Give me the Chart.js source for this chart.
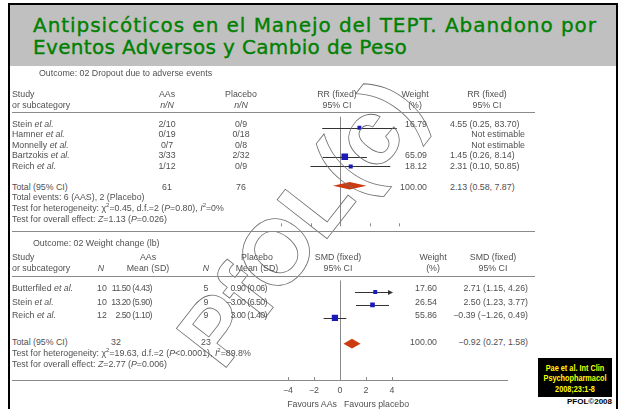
<!DOCTYPE html>
<html>
<head>
<meta charset="utf-8">
<script src="https://cdn.jsdelivr.net/npm/chart.js@4.4.0/dist/chart.umd.min.js"></script>
<style>
  body { margin: 0; width: 621px; height: 409px; overflow: hidden; background: #fff; position: relative; font-family: "Liberation Sans", Arial, sans-serif; }
  #frame { position: absolute; left: 8px; top: 3px; width: 610px; height: 430px; border: 2px solid #000; box-sizing: border-box; }
  #band { position: absolute; left: 10px; top: 5px; width: 606px; height: 61px; background: #c0c0c0; }
  .title { position: absolute; left: 33px; color: #008000; font: 20px "DejaVu Sans", sans-serif; line-height: 22px; height: 22px; white-space: nowrap; -webkit-text-stroke: 0.35px #008000; }
  .t { position: absolute; font-size: 8.8px; color: #505050; white-space: nowrap; line-height: 10px; height: 10px; }
  .tight { letter-spacing: -0.55px; }
  .hr { position: absolute; height: 1px; background: #8a8a8a; }
  .box { position: absolute; }
  #wm { position: absolute; left: 300px; top: 222px; transform: translate(-50%, -50%) rotate(-52deg); font: bold 92px "Liberation Sans", sans-serif; color: transparent; -webkit-text-stroke: 0.8px #707070; white-space: nowrap; }
  #cite { position: absolute; left: 538px; top: 358px; width: 74px; height: 39px; background: #000; }
  #cite div { position: absolute; left: 0; width: 74px; color: #ffff00; font: bold 8.5px "Liberation Sans", sans-serif; text-align: center; line-height: 10px; height: 10px; transform: scaleX(0.86); }
  #pfol { position: absolute; right: 9px; top: 397px; font: bold 8px "Liberation Sans", sans-serif; color: #000; }
</style>
</head>
<body>
<div id="frame"></div>
<div id="band"></div>
<div class="title" id="t1" style="top:13.5px;">Antipsicóticos en el Manejo del TEPT. Abandono por</div>
<div class="title" id="t2" style="top:35.5px;">Eventos Adversos y Cambio de Peso</div>

<div class="box" style="left:261px;top:112px;width:158px;height:119px;"><canvas id="rrChart" width="158" height="119"></canvas></div>
<div class="box" style="left:268px;top:276px;width:144px;height:133px;"><canvas id="smdChart" width="144" height="133"></canvas></div>

<div id="wm">PfOL(c)</div>
<div id="cite">
  <div style="top:5px;">Pae et al. Int Clin</div>
  <div style="top:15px;">Psychopharmacol</div>
  <div style="top:26px;">2008;23:1-8</div>
</div>
<div id="pfol">PFOL©2008</div>

<script>
// Outcome 02: dropout due to adverse events (RR, fixed)
const dropStudies = ['Stein', 'Hamner', 'Monnelly', 'Bartzokis', 'Reich'];
const dropAAs = ['2/10', '0/19', '0/7', '3/33', '1/12'];
const dropPlacebo = ['0/9', '0/18', '0/8', '2/32', '0/9'];
const dropWeight = [16.79, null, null, 65.09, 18.12];
const dropRR = [4.55, null, null, 1.45, 2.31];
const dropLo = [0.25, null, null, 0.26, 0.10];
const dropHi = [83.70, null, null, 8.14, 50.85];
const dropTotalN = [61, 76];
const dropTotalRR = [2.13, 0.58, 7.87];   // estimate, low, high
const rrTicks = [0.01, 0.1, 1, 10, 100];

// Outcome 02: weight change (lb) (SMD, fixed)
const wcStudies = ['Butterfiled', 'Stein', 'Reich'];
const wcN1 = [10, 10, 12];
const wcMean1 = [11.50, 13.20, 2.50];
const wcSD1 = [4.43, 5.90, 1.10];
const wcN2 = [5, 9, 9];
const wcMean2 = [0.90, -3.00, 3.00];
const wcSD2 = [0.06, 6.50, 1.40];
const wcWeight = [17.60, 26.54, 55.86];
const wcSMD = [2.71, 2.50, -0.39];
const wcLo = [1.15, 1.23, -1.26];
const wcHi = [4.26, 3.77, 0.49];
const wcTotalN = [32, 23];
const wcTotalSMD = [0.92, 0.27, 1.58];
const wcTotalLabel = '−0.92 (0.27, 1.58)'; // as printed on the slide
const smdTicks = [-4, -2, 0, 2, 4];

const BLUE = '#1a1ab8';
const DIAMOND = '#cc3a10';

// stretch the title lines to the width they have on the slide
function fitWidth(id, target) {
    const el = document.getElementById(id);
    const n = el.textContent.length;
    const w = el.getBoundingClientRect().width;
    el.style.letterSpacing = ((target - w) / n) + 'px';
}
fitWidth('t1', 564);
fitWidth('t2', 374);

function fmt(v) {
    return v.toFixed(2).replace('-', '−');
}

// absolutely placed text, y is the vertical centre
function put(x, y, html, align, cls) {
    const el = document.createElement('div');
    el.className = 't' + (cls ? ' ' + cls : '');
    el.innerHTML = html;
    el.style.left = x + 'px';
    el.style.top = (y - 5) + 'px';
    if (align === 'c') el.style.transform = 'translateX(-50%)';
    if (align === 'r') el.style.transform = 'translateX(-100%)';
    document.body.appendChild(el);
}

function rule(x1, x2, y) {
    const el = document.createElement('div');
    el.className = 'hr';
    el.style.left = x1 + 'px';
    el.style.width = (x2 - x1) + 'px';
    el.style.top = y + 'px';
    document.body.appendChild(el);
}

const SUP2 = '<sup style="font-size:6px;line-height:0">2</sup>';

// ---- top table ----
put(39, 73, 'Outcome: 02 Dropout due to adverse events');
put(12, 94, 'Study');
put(12, 105, 'or subcategory');
put(167, 94, 'AAs', 'c');
put(167, 105, '<i>n/N</i>', 'c');
put(241, 94, 'Placebo', 'c');
put(241, 105, '<i>n/N</i>', 'c');
put(337, 94, 'RR (fixed)', 'c');
put(337, 105, '95% CI', 'c');
put(415, 94, 'Weight', 'c');
put(415, 105, '(%)', 'c');
put(487, 94, 'RR (fixed)', 'c');
put(487, 105, '95% CI', 'c');
rule(12, 535, 112);

dropStudies.forEach((s, i) => {
    const y = 123.5 + 10.5 * i;
    put(12, y, s + ' <i>et al.</i>');
    put(167, y, dropAAs[i], 'c');
    put(241, y, dropPlacebo[i], 'c');
    if (dropRR[i] == null) {
        put(525, y, 'Not estimable', 'r');
    } else {
        put(427, y, fmt(dropWeight[i]), 'r');
        put(450, y, fmt(dropRR[i]) + ' (' + fmt(dropLo[i]) + ', ' + fmt(dropHi[i]) + ')');
    }
});
put(12, 186.5, 'Total (95% CI)');
put(167, 186.5, dropTotalN[0], 'c');
put(241, 186.5, dropTotalN[1], 'c');
put(427, 186.5, '100.00', 'r');
put(450, 186.5, fmt(dropTotalRR[0]) + ' (' + fmt(dropTotalRR[1]) + ', ' + fmt(dropTotalRR[2]) + ')');
put(12, 197, 'Total events: 6 (AAS), 2 (Placebo)');
put(12, 208, 'Test for heterogeneity: χ' + SUP2 + '=0.45, d.f.=2 (<i>P</i>=0.80), <i>I</i>' + SUP2 + '=0%');
put(12, 219, 'Test for overall effect: <i>Z</i>=1.13 (<i>P</i>=0.026)');
rule(12, 535, 231);

// ---- bottom table ----
put(33, 243, 'Outcome: 02 Weight change (lb)');
put(12, 257, 'Study');
put(12, 268, 'or subcategory');
put(101, 268, '<i>N</i>', 'c');
put(148, 257, 'AAs', 'c');
put(148, 268, 'Mean (SD)', 'c');
put(206, 268, '<i>N</i>', 'c');
put(257, 257, 'Placebo', 'c');
put(257, 268, 'Mean (SD)', 'c');
put(338, 257, 'SMD (fixed)', 'c');
put(338, 268, '95% CI', 'c');
put(433, 257, 'Weight', 'c');
put(433, 268, '(%)', 'c');
put(493, 257, 'SMD (fixed)', 'c');
put(493, 268, '95% CI', 'c');
rule(12, 535, 276);

wcStudies.forEach((s, i) => {
    const y = 288 + 13.5 * i;
    put(12, y, s + ' <i>et al.</i>');
    put(102, y, wcN1[i], 'c');
    put(152, y, fmt(wcMean1[i]) + ' (' + fmt(wcSD1[i]) + ')', 'r', 'tight');
    put(206, y, wcN2[i], 'c');
    put(267, y, fmt(wcMean2[i]) + ' (' + fmt(wcSD2[i]) + ')', 'r', 'tight');
    put(437, y, fmt(wcWeight[i]), 'r');
    put(528, y, fmt(wcSMD[i]) + ' (' + fmt(wcLo[i]) + ', ' + fmt(wcHi[i]) + ')', 'r');
});
put(12, 342, 'Total (95% CI)');
put(116, 342, wcTotalN[0], 'c');
put(206, 342, wcTotalN[1], 'c');
put(437, 342, '100.00', 'r');
put(528, 342, wcTotalLabel, 'r');
put(12, 353, 'Test for heterogeneity: χ' + SUP2 + '=19.63, d.f.=2 (<i>P</i>&lt;0.0001), <i>I</i>' + SUP2 + '=89.8%');
put(12, 364, 'Test for overall effect: <i>Z</i>=2.77 (<i>P</i>=0.006)');
rule(12, 508, 380);
put(337, 404, 'Favours AAs', 'r');
put(344, 404, 'Favours placebo');

// ---- forest plots ----
function side(w) {
    return 1.0 + 0.7 * Math.sqrt(w);
}

function forestPlugin(lo, hi, est, totalRow, total, refValue, tickValues) {
    return {
        id: 'forest',
        beforeDatasetsDraw(chart) {
            const ctx = chart.ctx;
            const xs = chart.scales.x, ys = chart.scales.y;
            const area = chart.chartArea;
            ctx.save();
            // line of no effect
            const x0 = Math.round(xs.getPixelForValue(refValue)) + 0.5;
            ctx.strokeStyle = '#8a8a8a';
            ctx.lineWidth = 1;
            ctx.beginPath();
            ctx.moveTo(x0, area.top);
            ctx.lineTo(x0, area.bottom);
            ctx.stroke();
            // small ticks on the axis line
            tickValues.forEach(v => {
                const x = Math.round(xs.getPixelForValue(v)) + 0.5;
                ctx.beginPath();
                ctx.moveTo(x, area.bottom - 3);
                ctx.lineTo(x, area.bottom);
                ctx.stroke();
            });
            // confidence intervals
            ctx.strokeStyle = '#333';
            est.forEach((e, i) => {
                if (e == null) return;
                const y = Math.round(ys.getPixelForValue(i)) + 0.5;
                const a = Math.max(lo[i], xs.min), b = Math.min(hi[i], xs.max);
                const xa = xs.getPixelForValue(a), xb = xs.getPixelForValue(b);
                ctx.beginPath();
                ctx.moveTo(xa, y);
                ctx.lineTo(xb, y);
                ctx.stroke();
                if (hi[i] > xs.max) {
                    ctx.fillStyle = '#333';
                    ctx.beginPath();
                    ctx.moveTo(xb + 1, y);
                    ctx.lineTo(xb - 4, y - 2.5);
                    ctx.lineTo(xb - 4, y + 2.5);
                    ctx.closePath();
                    ctx.fill();
                }
            });
            ctx.restore();
        },
        afterDatasetsDraw(chart) {
            const ctx = chart.ctx;
            const xs = chart.scales.x, ys = chart.scales.y;
            const y = ys.getPixelForValue(totalRow);
            const h = (ys.getPixelForValue(1) - ys.getPixelForValue(0)) * 0.38;
            ctx.save();
            ctx.fillStyle = DIAMOND;
            ctx.beginPath();
            ctx.moveTo(xs.getPixelForValue(total[1]), y);
            ctx.lineTo(xs.getPixelForValue(total[0]), y - h);
            ctx.lineTo(xs.getPixelForValue(total[2]), y);
            ctx.lineTo(xs.getPixelForValue(total[0]), y + h);
            ctx.closePath();
            ctx.fill();
            ctx.restore();
        }
    };
}

function points(est) {
    const out = [];
    est.forEach((e, i) => { if (e != null) out.push({ x: e, y: i }); });
    return out;
}

Chart.defaults.font.family = '"Liberation Sans", Arial, sans-serif';
Chart.defaults.font.size = 8.8;
Chart.defaults.color = '#505050';

const dropPts = points(dropRR);
const dropSizes = dropWeight.filter(w => w != null).map(w => side(w) / 1.414);

new Chart(document.getElementById('rrChart'), {
    type: 'scatter',
    data: {
        datasets: [{
            data: dropPts,
            pointStyle: 'rect',
            pointRadius: dropSizes,
            backgroundColor: BLUE,
            borderWidth: 0
        }]
    },
    options: {
        responsive: false,
        animation: false,
        devicePixelRatio: 1,
        layout: { padding: { left: 20, right: 20, top: 0, bottom: 0 } },
        plugins: { legend: { display: false }, tooltip: { enabled: false } },
        scales: {
            x: { type: 'logarithmic', min: rrTicks[0], max: rrTicks[rrTicks.length - 1], display: false },
            y: { type: 'linear', min: -1.14, max: 10.19, reverse: true, display: false }
        }
    },
    plugins: [forestPlugin(dropLo, dropHi, dropRR, 6, dropTotalRR, 1, rrTicks.filter(v => v !== 1))]
});

const wcPts = points(wcSMD);
const wcSizes = wcWeight.map(w => side(w) / 1.414);

new Chart(document.getElementById('smdChart'), {
    type: 'scatter',
    data: {
        datasets: [{
            data: wcPts,
            pointStyle: 'rect',
            pointRadius: wcSizes,
            backgroundColor: BLUE,
            borderWidth: 0
        }]
    },
    options: {
        responsive: false,
        animation: false,
        devicePixelRatio: 1,
        layout: { padding: { left: 20, right: 20, top: 0, bottom: 0 } },
        plugins: { legend: { display: false }, tooltip: { enabled: false } },
        scales: {
            x: {
                type: 'linear',
                min: smdTicks[0],
                max: smdTicks[smdTicks.length - 1],
                grid: { display: false, drawTicks: false },
                border: { display: false },
                afterBuildTicks: scale => { scale.ticks = smdTicks.map(v => ({ value: v })); },
                afterFit: scale => { scale.height = 29; },
                ticks: {
                    padding: 5,
                    autoSkip: false,
                    maxRotation: 0,
                    callback: v => String(v).replace('-', '−')
                }
            },
            y: { type: 'linear', min: -0.89, max: 6.81, reverse: true, display: false }
        }
    },
    plugins: [forestPlugin(wcLo, wcHi, wcSMD, 4, wcTotalSMD, 0, smdTicks)]
});
</script>
</body>
</html>
